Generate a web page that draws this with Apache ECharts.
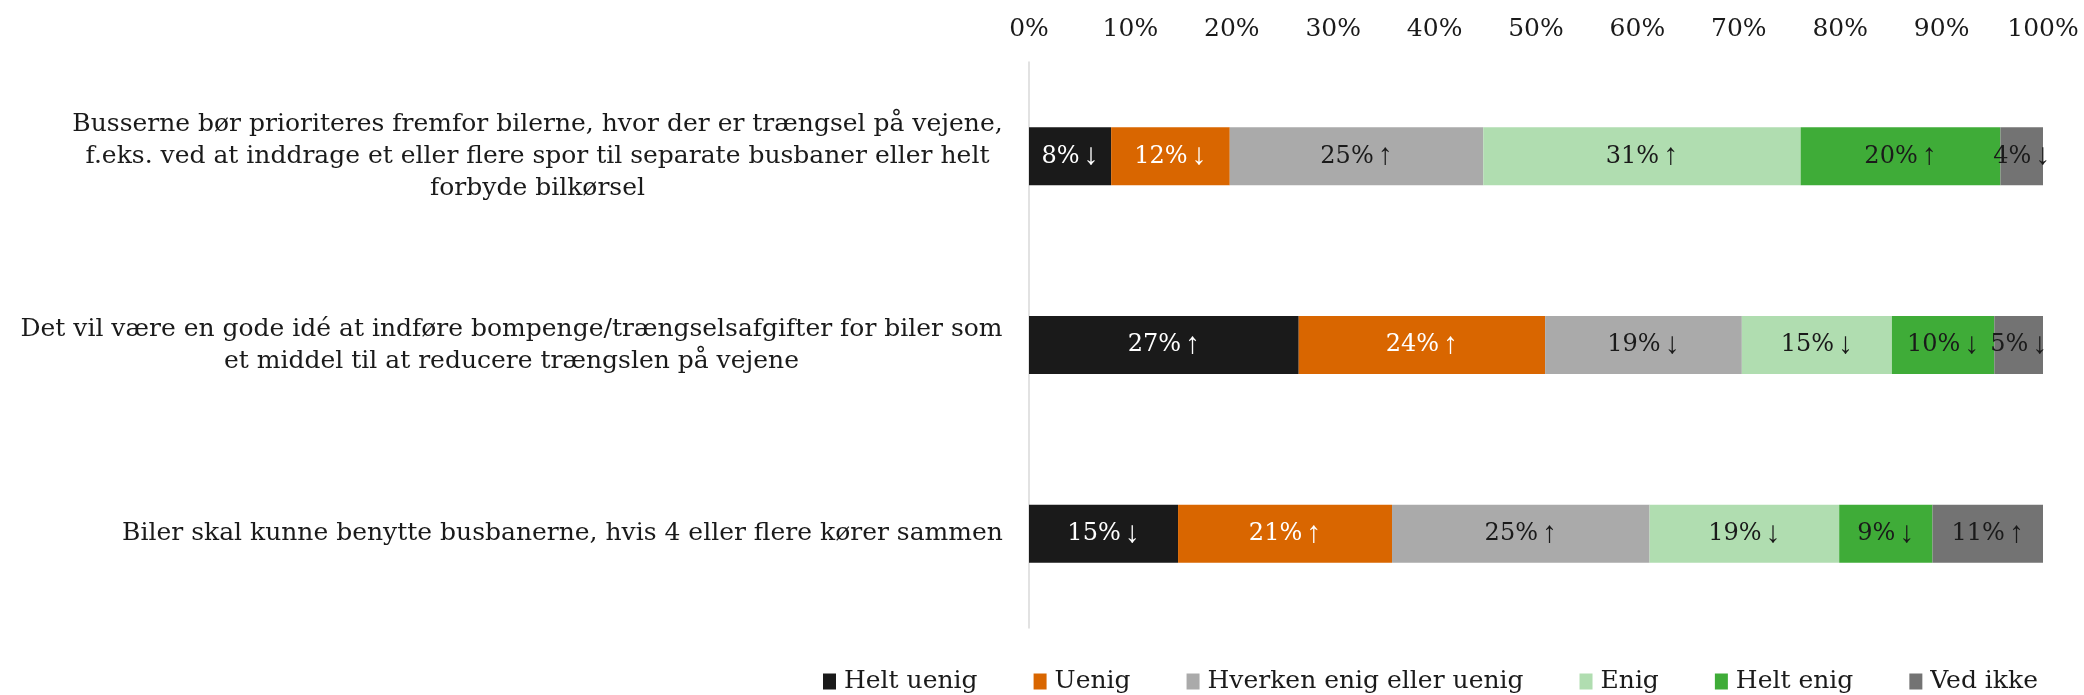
<!DOCTYPE html>
<html><head><meta charset="utf-8">
<script src="https://cdn.jsdelivr.net/npm/echarts@6/dist/echarts.min.js"></script>
<style>html,body{margin:0;padding:0;background:#fff}#c{width:2084px;height:695px}</style>
</head><body><div id="c"></div>
<script>
const categories = [
  "Busserne bør prioriteres fremfor bilerne, hvor der er trængsel på vejene,\nf.eks. ved at inddrage et eller flere spor til separate busbaner eller helt\nforbyde bilkørsel",
  "Det vil være en gode idé at indføre bompenge/trængselsafgifter for biler som\net middel til at reducere trængslen på vejene",
  "Biler skal kunne benytte busbanerne, hvis 4 eller flere kører sammen"
];
const seriesNames = ["Helt uenig", "Uenig", "Hverken enig eller uenig", "Enig", "Helt enig", "Ved ikke"];
const heltUenig = [8.1, 26.6, 14.7];
const uenig = [11.7, 24.3, 21.1];
const hverken = [25.0, 19.4, 25.4];
const enig = [31.3, 14.8, 18.7];
const heltEnig = [19.7, 10.1, 9.2];
const vedIkke = [4.2, 4.8, 10.9];
const arrowsHeltUenig = ["↓", "↑", "↓"];
const arrowsUenig = ["↓", "↑", "↑"];
const arrowsHverken = ["↑", "↓", "↑"];
const arrowsEnig = ["↑", "↓", "↓"];
const arrowsHeltEnig = ["↑", "↓", "↓"];
const arrowsVedIkke = ["↓", "↓", "↑"];
const xTicks = [0, 10, 20, 30, 40, 50, 60, 70, 80, 90, 100];

const values = [heltUenig, uenig, hverken, enig, heltEnig, vedIkke];
const arrows = [arrowsHeltUenig, arrowsUenig, arrowsHverken, arrowsEnig, arrowsHeltEnig, arrowsVedIkke];
const colors = ["#1a1a1a", "#d96600", "#aaaaaa", "#b0ddb0", "#3fac38", "#737373"];
const labelColors = ["#ffffff", "#ffffff", "#1a1a1a", "#1a1a1a", "#1a1a1a", "#1a1a1a"];

const FONT = '"DejaVu Serif", Georgia, serif';
const FS = 25;
const ctx = document.createElement('canvas').getContext('2d');
ctx.font = FS + 'px ' + FONT;
const rich = {};
categories.forEach((c, i) => {
  const w = Math.max(...c.split('\n').map(l => ctx.measureText(l).width));
  rich['c' + i] = { width: Math.ceil(w), align: 'center', fontFamily: FONT, fontSize: FS, lineHeight: 32, color: '#1a1a1a' };
});

const chart = echarts.init(document.getElementById('c'));
chart.setOption({
  animation: false,
  textStyle: { fontFamily: FONT },
  grid: { left: 1029, right: 41, top: 62, bottom: 67 },
  xAxis: {
    type: 'value', position: 'top', min: 0, max: 100, interval: 10,
    axisLine: { show: false }, axisTick: { show: false }, splitLine: { show: false },
    axisLabel: { formatter: v => xTicks.includes(v) ? v + '%' : '', fontFamily: FONT, fontSize: FS, color: '#1a1a1a', margin: 20 }
  },
  yAxis: {
    type: 'category', inverse: true, data: categories,
    axisLine: { show: true, lineStyle: { color: '#d9d9d9', width: 1.5 } },
    axisTick: { show: false },
    axisLabel: {
      align: 'right', margin: 26,
      formatter: (v, i) => '{c' + i + '|' + v + '}',
      rich: rich
    }
  },
  legend: {
    left: 818, top: 664, itemWidth: 13, itemHeight: 16, itemGap: 56, icon: 'rect',
    textStyle: { fontFamily: FONT, fontSize: FS, color: '#1a1a1a', padding: [0, 0, 0, 3] },
    data: seriesNames
  },
  series: seriesNames.map((n, s) => ({
    name: n, type: 'bar', stack: 'total', barWidth: 58,
    itemStyle: { color: colors[s] },
    label: {
      show: true, position: 'inside', fontFamily: FONT, fontSize: 24, color: labelColors[s],
      formatter: p => '{t|' + Math.round(p.value) + '%}{a|' + arrows[s][p.dataIndex] + '}',
      rich: {
        t: { fontFamily: FONT, fontSize: 24, color: labelColors[s], padding: [0, 4, 0, 0] },
        a: { fontFamily: '"Liberation Serif", serif', fontSize: 30, color: labelColors[s] }
      }
    },
    data: values[s]
  }))
});
</script></body></html>
